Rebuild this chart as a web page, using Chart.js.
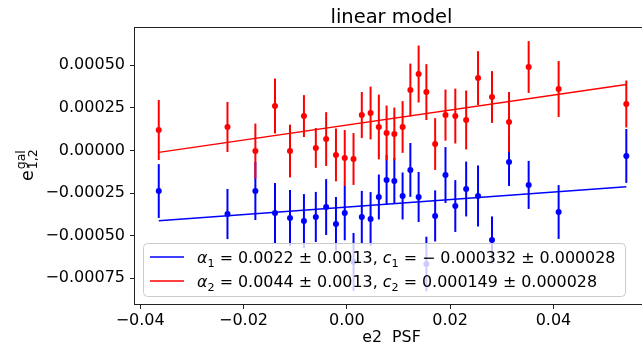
<!DOCTYPE html>
<html>
<head>
<meta charset="utf-8">
<script src="https://cdn.jsdelivr.net/npm/chart.js@4.4.1/dist/chart.umd.min.js"></script>
<style>
  html, body { margin: 0; padding: 0; background: #fff; overflow: hidden; }
  #wrap { position: relative; width: 652px; height: 344px; }
</style>
</head>
<body>
<div id="wrap"><canvas id="chart" width="652" height="344"></canvas></div>
<script>
// PSF e2 bins (x) and measured galaxy ellipticity per bin
const psfE2 = [-0.0364, -0.0231, -0.0177, -0.0139, -0.0110, -0.0083, -0.0060, -0.0040, -0.0021, -0.0004,
               0.0013, 0.0029, 0.0046, 0.0062, 0.0077, 0.0092, 0.0108, 0.0123, 0.0139, 0.0154,
               0.0171, 0.0191, 0.0210, 0.0231, 0.0254, 0.0281, 0.0314, 0.0352, 0.0410, 0.0541];

const gal1 = [-0.000238, -0.000373, -0.000238, -0.000367, -0.000396, -0.000414, -0.000390, -0.000332, -0.000431, -0.000367,
              -0.000654, -0.000390, -0.000402, -0.000273, -0.000173, -0.000179, -0.000267, -0.000114, -0.000273, -0.000666,
              -0.000384, -0.000144, -0.000326, -0.000226, -0.000267, -0.000525, -0.000067, -0.000202, -0.000361, -0.000032];
const gal1Err = [0.000158, 0.000147, 0.000170, 0.000176, 0.000164, 0.000158, 0.000147, 0.000164, 0.000158, 0.000160,
                 0.000170, 0.000153, 0.000158, 0.000132, 0.000147, 0.000135, 0.000138, 0.000158, 0.000147, 0.000160,
                 0.000150, 0.000164, 0.000152, 0.000161, 0.000179, 0.000138, 0.000141, 0.000141, 0.000158, 0.000158];

const gal2 = [0.000120, 0.000138, -0.000003, 0.000261, -0.000003, 0.000202, 0.000015, 0.000067, -0.000026, -0.000044,
              -0.000050, 0.000208, 0.000220, 0.000138, 0.000103, 0.000097, 0.000138, 0.000355, 0.000449, 0.000343,
              0.000038, 0.000208, 0.000202, 0.000179, 0.000425, 0.000314, 0.000167, 0.000490, 0.000361, 0.000273];
const gal2Err = [0.000176, 0.000147, 0.000161, 0.000161, 0.000155, 0.000123, 0.000117, 0.000158, 0.000155, 0.000164,
                 0.000152, 0.000135, 0.000155, 0.000190, 0.000161, 0.000155, 0.000152, 0.000155, 0.000167, 0.000164,
                 0.000152, 0.000150, 0.000161, 0.000173, 0.000158, 0.000152, 0.000176, 0.000152, 0.000164, 0.000138];

// fitted lines, end points
const fitX = [-0.0364, 0.0541];
const fit1 = [-0.000412, -0.000213];
const fit2 = [-0.000011, 0.000387];

const legendRows = [
  { color: '#0000ff', a: '1', alpha: '0.0022', aErr: '0.0013', c: '\u2212 0.000332', cErr: '0.000028' },
  { color: '#ff0000', a: '2', alpha: '0.0044', aErr: '0.0013', c: '0.000149', cErr: '0.000028' }
];

const FONT = '"DejaVu Sans", sans-serif';

function fmt(v, d) {
  const s = Math.abs(v) < 1e-12 ? (0).toFixed(d) : v.toFixed(d);
  return s.replace('-', '\u2212');
}

const toPoints = (ys) => psfE2.map((x, i) => ({ x, y: ys[i] }));

// error bars drawn just before their own dataset's markers
const errorBars = {
  id: 'errorBars',
  beforeDatasetDraw(chart, args) {
    const ds = chart.data.datasets[args.index];
    if (!ds.errors) return;
    const { ctx, chartArea: a, scales: { x, y } } = chart;
    ctx.save();
    ctx.beginPath();
    ctx.rect(a.left, a.top, a.right - a.left, a.bottom - a.top);
    ctx.clip();
    ctx.strokeStyle = ds.borderColor;
    ctx.lineWidth = 2;
    ds.data.forEach((p, i) => {
      const px = x.getPixelForValue(p.x);
      ctx.beginPath();
      ctx.moveTo(px, y.getPixelForValue(p.y - ds.errors[i]));
      ctx.lineTo(px, y.getPixelForValue(p.y + ds.errors[i]));
      ctx.stroke();
    });
    ctx.restore();
  }
};

function drawRow(ctx, x, base, r) {
  const big = '15.9px ' + FONT, it = 'italic 15.9px ' + FONT, small = '11.2px ' + FONT;
  const parts = [
    [it, '\u03b1', 0], [small, r.a, 4], [big, ' = ' + r.alpha + ' \u00b1 ' + r.aErr + ', ', 0],
    [it, 'c', 0], [small, r.a, 4], [big, ' = ' + r.c + ' \u00b1 ' + r.cErr, 0]
  ];
  parts.forEach(([f, t, dy]) => {
    ctx.font = f;
    ctx.fillText(t, x, base + dy);
    x += ctx.measureText(t).width;
  });
  return x;
}

const decorations = {
  id: 'decorations',
  afterDatasetsDraw(chart) {
    const { ctx } = chart;
    // legend
    ctx.save();
    const lx = 143, ly = 243, lw = 482, lh = 53;
    ctx.beginPath();
    ctx.roundRect(lx + 0.5, ly + 0.5, lw, lh, 4);
    ctx.fillStyle = 'rgba(255,255,255,0.8)';
    ctx.fill();
    ctx.strokeStyle = '#cccccc';
    ctx.lineWidth = 1;
    ctx.stroke();
    legendRows.forEach((r, i) => {
      const cy = 257 + i * 24;
      ctx.strokeStyle = r.color;
      ctx.lineWidth = 1.5;
      ctx.beginPath();
      ctx.moveTo(150, cy);
      ctx.lineTo(184, cy);
      ctx.stroke();
      ctx.fillStyle = '#000';
      ctx.textBaseline = 'alphabetic';
      ctx.textAlign = 'left';
      drawRow(ctx, 197, cy + 6, r);
    });
    ctx.restore();
  },
  afterDraw(chart) {
    const { ctx, chartArea: a } = chart;
    ctx.save();
    // frame
    ctx.strokeStyle = '#222';
    ctx.lineWidth = 1;
    ctx.strokeRect(a.left - 0.5, a.top - 0.5, a.right - a.left + 1, a.bottom - a.top + 1);
    // title
    ctx.fillStyle = '#000';
    ctx.textAlign = 'center';
    ctx.textBaseline = 'alphabetic';
    ctx.font = '19.5px ' + FONT;
    const cx = (a.left + a.right) / 2;
    ctx.fillText('linear model', cx, 22.5);
    // x label
    ctx.font = '15.8px ' + FONT;
    ctx.fillText('e2  PSF', cx, 342);
    // y label: e^{gal}_{1,2}
    ctx.translate(33, 181);
    ctx.rotate(-Math.PI / 2);
    ctx.textAlign = 'left';
    ctx.font = '17.5px ' + FONT;
    ctx.fillText('e', 0, 0);
    const w = ctx.measureText('e').width + 1;
    ctx.font = '12.5px ' + FONT;
    ctx.fillText('gal', w, -8);
    ctx.fillText('1,2', w, 4);
    ctx.restore();
  }
};

new Chart(document.getElementById('chart'), {
  type: 'scatter',
  data: {
    datasets: [
      { type: 'line', data: [{ x: fitX[0], y: fit2[0] }, { x: fitX[1], y: fit2[1] }], borderColor: '#ff0000', borderWidth: 1.5, pointRadius: 0, order: 0 },
      { type: 'line', data: [{ x: fitX[0], y: fit1[0] }, { x: fitX[1], y: fit1[1] }], borderColor: '#0000ff', borderWidth: 1.5, pointRadius: 0, order: 1 },
      { data: toPoints(gal2), errors: gal2Err, borderColor: '#ff0000', backgroundColor: '#ff0000', pointRadius: 3, pointBorderWidth: 0, order: 2 },
      { data: toPoints(gal1), errors: gal1Err, borderColor: '#0000ff', backgroundColor: '#0000ff', pointRadius: 3, pointBorderWidth: 0, order: 3 }
    ]
  },
  options: {
    responsive: false,
    animation: false,
    devicePixelRatio: 1,
    layout: { padding: { top: 28, right: 1, left: 0, bottom: 0 } },
    plugins: { legend: { display: false }, tooltip: { enabled: false } },
    scales: {
      x: {
        type: 'linear',
        min: -0.0410, max: 0.0583,
        afterFit: (s) => { s.height = 40; },
        border: { display: false },
        grid: { drawOnChartArea: false, drawTicks: true, tickLength: 5, color: '#222' },
        ticks: { stepSize: 0.02, includeBounds: false, padding: 2, color: '#000', font: { family: FONT, size: 16 },
                 maxRotation: 0, autoSkip: false, callback: (v) => fmt(v, 2) }
      },
      y: {
        type: 'linear',
        min: -0.000901, max: 0.000719,
        afterFit: (s) => { s.width = 135; },
        border: { display: false },
        grid: { drawOnChartArea: false, drawTicks: true, tickLength: 5, color: '#222' },
        ticks: { stepSize: 0.00025, includeBounds: false, padding: 5, color: '#000', font: { family: FONT, size: 16 },
                 autoSkip: false, callback: (v) => fmt(v, 5) }
      }
    }
  },
  plugins: [errorBars, decorations]
});
</script>
</body>
</html>
